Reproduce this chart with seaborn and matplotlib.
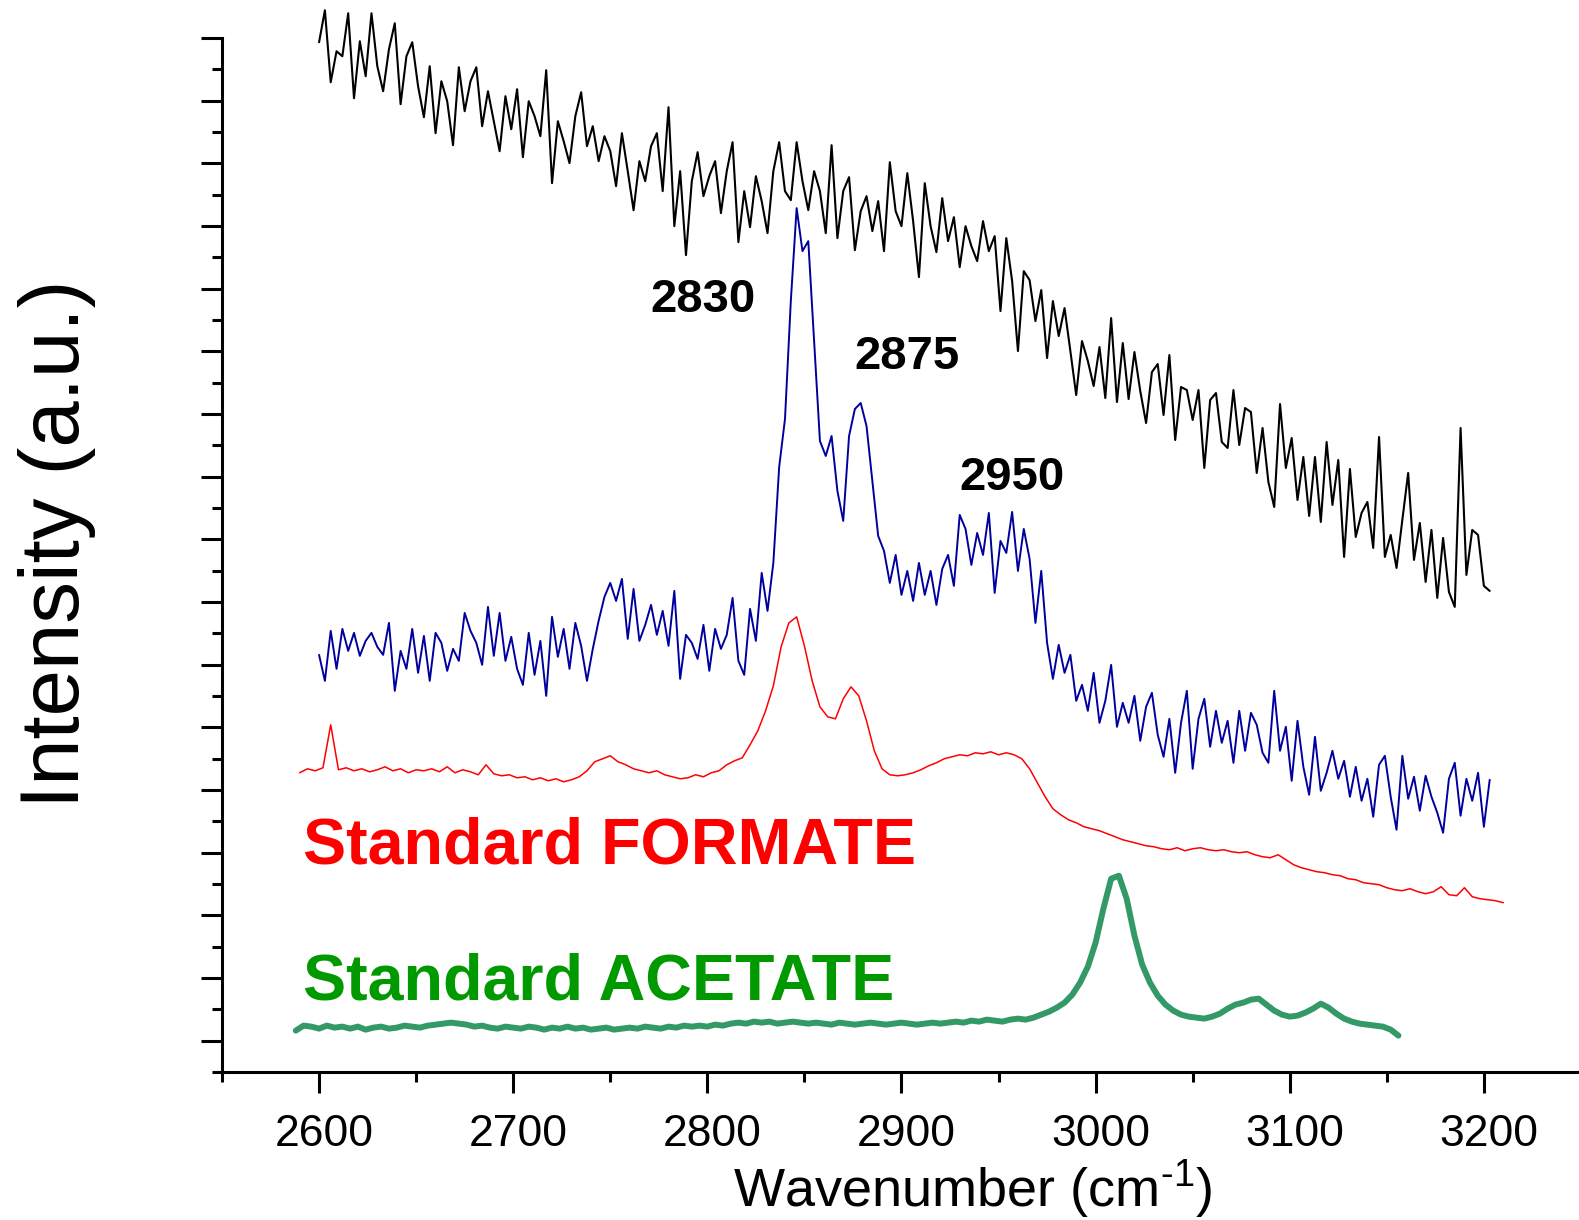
import numpy as np
import pandas as pd
import matplotlib
matplotlib.use("Agg")
import matplotlib.pyplot as plt
import matplotlib.transforms as mtransforms
from matplotlib.ticker import FixedLocator, NullFormatter
import seaborn as sns

# ---------------------------------------------------------------------------
# Raman spectra in the C-H stretching region (intensity in a.u., stacked)
# ---------------------------------------------------------------------------
# sample spectrum, upper trace (start wavenumber, step in cm-1, intensities)
top_start, top_step = 2600, 3
top_trace = [
    999, 1031, 959, 990, 985, 1028, 943, 1000, 965, 1028,
    975, 950, 992, 1018, 937, 985, 999, 955, 924, 975,
    908, 960, 940, 896, 974, 930, 960, 974, 915, 950,
    920, 890, 945, 912, 952, 884, 940, 925, 905, 971,
    858, 920, 900, 878, 925, 949, 895, 915, 880, 905,
    890, 855, 908, 870, 831, 880, 860, 895, 908, 850,
    934, 815, 870, 786, 860, 889, 845, 865, 880, 828,
    870, 899, 799, 850, 814, 865, 840, 808, 870, 899,
    850, 841, 899, 860, 831, 870, 850, 808, 896, 803,
    850, 864, 791, 830, 845, 810, 840, 790, 879, 830,
    815, 868, 820, 764, 858, 815, 789, 843, 800, 824,
    774, 815, 795, 780, 820, 790, 805, 730, 803, 760,
    690, 770, 761, 720, 751, 683, 740, 705, 733, 690,
    646, 700, 680, 655, 694, 643, 723, 639, 698, 642,
    689, 650, 618, 669, 677, 626, 686, 601, 654, 651,
    621, 651, 573, 641, 648, 599, 593, 651, 596, 633,
    629, 568, 613, 559, 534, 637, 573, 603, 541, 584,
    525, 584, 519, 599, 536, 581, 484, 572, 504, 528,
    539, 493, 604, 484, 506, 473, 521, 568, 481, 518,
    459, 511, 443, 503, 449, 434, 613, 466, 511, 506,
    455, 450,
]

# sample spectrum, middle trace
mid_start, mid_step = 2600, 3
mid_trace = [
    386, 360, 410, 372, 412, 390, 408, 385, 400, 408,
    394, 386, 418, 350, 390, 372, 412, 368, 405, 360,
    408, 398, 370, 392, 380, 428, 410, 398, 376, 434,
    385, 428, 380, 404, 372, 356, 408, 366, 400, 345,
    424, 384, 412, 372, 418, 395, 360, 392, 420, 444,
    458, 440, 462, 402, 452, 400, 416, 436, 406, 430,
    395, 450, 362, 406, 398, 382, 416, 370, 412, 392,
    406, 443, 380, 366, 432, 400, 468, 430, 478, 574,
    622, 740, 833, 790, 800, 700, 600, 585, 605, 550,
    520, 605, 632, 638, 615, 560, 505, 490, 458, 486,
    446, 470, 440, 478, 446, 470, 436, 472, 486, 455,
    526, 512, 476, 508, 486, 528, 448, 500, 488, 529,
    470, 512, 482, 418, 470, 398, 362, 396, 368, 386,
    340, 356, 330, 368, 318, 340, 376, 314, 338, 318,
    345, 300, 334, 348, 306, 284, 322, 268, 318, 350,
    272, 322, 342, 294, 330, 298, 320, 278, 330, 290,
    328, 316, 288, 278, 350, 290, 314, 260, 320, 274,
    246, 304, 250, 268, 290, 262, 280, 244, 274, 240,
    262, 224, 276, 285, 244, 211, 285, 242, 264, 230,
    265, 244, 228, 208, 262, 278, 225, 262, 240, 268,
    214, 261,
]

# standard formate
formate_start, formate_step = 2590, 4
formate_trace = [
    268, 272, 270, 273, 316, 271, 273, 270, 272, 269,
    271, 274, 270, 272, 268, 271, 270, 272, 269, 274,
    268, 271, 269, 266, 276, 267, 265, 266, 263, 264,
    261, 263, 260, 262, 259, 261, 264, 270, 279, 282,
    285, 279, 276, 272, 270, 268, 270, 266, 264, 262,
    263, 266, 264, 268, 270, 276, 280, 283, 296, 310,
    330, 355, 394, 418, 424, 395, 360, 334, 324, 322,
    342, 354, 345, 320, 290, 272, 266, 265, 266, 268,
    271, 275, 278, 282, 284, 286, 285, 288, 287, 289,
    286, 288, 286, 282, 272, 258, 244, 232, 226, 221,
    218, 214, 212, 210, 207, 204, 201, 199, 197, 195,
    194, 192, 191, 193, 190, 192, 193, 191, 190, 191,
    189, 188, 189, 186, 184, 183, 186, 181, 176, 173,
    171, 169, 168, 166, 165, 162, 161, 158, 157, 156,
    153, 151, 150, 152, 149, 147, 149, 154, 146, 145,
    153, 144, 142, 141, 140, 138,
]

# standard acetate
acetate_start, acetate_step = 2588, 4
acetate_trace = [
    10, 15, 14, 12, 15, 13, 14, 12, 14, 11,
    13, 14, 12, 13, 15, 14, 13, 15, 16, 17,
    18, 17, 16, 14, 15, 13, 12, 14, 13, 12,
    14, 13, 11, 13, 12, 14, 12, 13, 11, 12,
    13, 11, 12, 13, 12, 14, 13, 12, 14, 13,
    15, 14, 15, 14, 16, 15, 17, 18, 17, 19,
    18, 19, 17, 18, 19, 18, 17, 18, 17, 16,
    18, 17, 16, 17, 18, 17, 16, 17, 18, 17,
    16, 17, 18, 17, 18, 19, 18, 20, 19, 21,
    20, 19, 21, 22, 21, 23, 26, 29, 33, 38,
    46, 58, 74, 98, 132, 162, 165, 142, 105, 76,
    58, 45, 36, 30, 26, 24, 23, 22, 24, 27,
    32, 36, 38, 41, 42, 36, 30, 26, 24, 25,
    28, 32, 37, 33, 27, 22, 19, 17, 16, 15,
    14, 11, 5,
]

peak_labels = ["2830", "2875", "2950"]
peak_label_x = [2798, 2903, 2957]
peak_label_y = [729, 672, 551]

x_ticks = [2600, 2700, 2800, 2900, 3000, 3100, 3200]


def as_frame(start, step, values, name):
    wn = start + step * np.arange(len(values))
    return pd.DataFrame({"wavenumber": wn, "intensity": values, "spectrum": name})


frames = [
    as_frame(top_start, top_step, top_trace, "top"),
    as_frame(mid_start, mid_step, mid_trace, "mid"),
    as_frame(formate_start, formate_step, formate_trace, "formate"),
    as_frame(acetate_start, acetate_step, acetate_trace, "acetate"),
]
spectra = pd.concat(frames, ignore_index=True)

sns.set_style("ticks")
plt.rcParams["font.family"] = ["Liberation Sans", "DejaVu Sans"]
plt.rcParams["mathtext.fontset"] = "custom"
plt.rcParams["mathtext.rm"] = "Liberation Sans"
plt.rcParams["mathtext.it"] = "Liberation Sans:italic"
plt.rcParams["mathtext.bf"] = "Liberation Sans:bold"
for key in ("text.color", "axes.labelcolor", "xtick.color", "ytick.color",
            "axes.edgecolor"):
    plt.rcParams[key] = "black"

W, H = 1579, 1220
fig = plt.figure(figsize=(W / 100, H / 100), dpi=100)
ax = fig.add_axes([222 / W, 1 - 1072 / H, 1357 / W, 1034 / H])

styles = {
    "top": dict(color="#000000", linewidth=1.5),
    "mid": dict(color="#00009E", linewidth=1.4),
    "formate": dict(color="#FF0000", linewidth=1.1),
    "acetate": dict(color="#339966", linewidth=4.3),
}
for name, st in styles.items():
    sub = spectra[spectra["spectrum"] == name]
    sns.lineplot(data=sub, x="wavenumber", y="intensity", estimator=None,
                 sort=False, ax=ax, clip_on=False, legend=False, **st)

# axes frame
ax.set_xlim(2550, 3249)
unit = 62.7
ax.set_ylim(-0.5 * unit - 0.05, 16 * unit + 0.05)
for side in ("top", "right"):
    ax.spines[side].set_visible(False)
for side in ("left", "bottom"):
    ax.spines[side].set_linewidth(2.2)
    ax.spines[side].set_color("black")

ax.xaxis.set_major_locator(FixedLocator(x_ticks))
ax.xaxis.set_minor_locator(FixedLocator([2550, 2650, 2750, 2850, 2950, 3050, 3150]))
ax.yaxis.set_major_locator(FixedLocator(np.arange(0, 17) * unit))
ax.yaxis.set_minor_locator(FixedLocator((np.arange(0, 17) - 0.5) * unit))
ax.yaxis.set_major_formatter(NullFormatter())
ax.set_xticklabels([str(t) for t in x_ticks])
ax.tick_params(axis="both", which="major", direction="out", length=15, width=2.2,
               color="black")
ax.tick_params(axis="both", which="minor", direction="out", length=7.5, width=2.2,
               color="black")
ax.tick_params(axis="x", which="major", labelsize=32, pad=15, labelcolor="black")
shift = mtransforms.ScaledTranslation(5 / 100, 0, fig.dpi_scale_trans)
for lab in ax.get_xticklabels():
    lab.set_transform(lab.get_transform() + shift)

ax.set_xlabel("")
ax.set_ylabel("")
fig.text(973 / W, 1 - 1190 / H, r"Wavenumber (cm$^{\text{-1}}$)", fontsize=39,
         ha="center", va="center", color="black")
fig.text(57 / W, 1 - 544 / H, "Intensity (a.u.)", fontsize=60, rotation=90,
         ha="center", va="center", color="black")

for lab, lx, ly in zip(peak_labels, peak_label_x, peak_label_y):
    ax.text(lx, ly, lab, fontsize=34, fontweight="bold", ha="center",
            va="baseline", color="black")

ax.text(2591.8, 177, "Standard FORMATE", fontsize=46.5, fontweight="bold",
        color="#FF0000", ha="left", va="baseline")
ax.text(2591.8, 41, "Standard ACETATE", fontsize=46.5, fontweight="bold",
        color="#009900", ha="left", va="baseline")

fig.savefig("out.png", dpi=100, facecolor="white")
